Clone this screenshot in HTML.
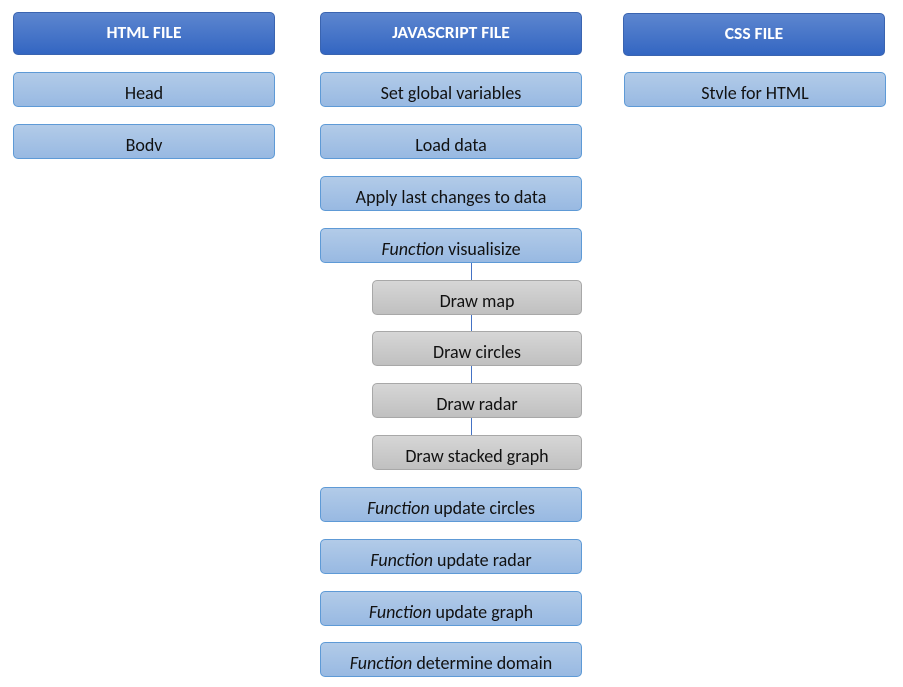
<!DOCTYPE html>
<html><head><meta charset="utf-8"><style>
body{margin:0;width:903px;height:687px;background:#fff;position:relative;overflow:hidden;font-family:Calibri,"Liberation Sans",sans-serif;}
.b{position:absolute;box-sizing:border-box;border-radius:5px;text-align:center;color:#111;font-size:18px;}
.h{background:linear-gradient(#5d86cf,#3366c2);border:1px solid #3a64b0;color:#fff;font-weight:bold;font-size:17.5px;line-height:38px;}
.l{background:linear-gradient(#b2cbe8,#98b9e2);border:1px solid #5e9ad6;line-height:40px;}
.g{background:linear-gradient(#d6d6d6,#c0c0c0);border:1px solid #a8a8a8;line-height:40px;}
.v{position:absolute;left:471px;width:1px;background:#4472c4;}
</style></head><body>
<div class="b h" style="left:13px;top:12px;width:262px;height:43px">HTML FILE</div>
<div class="b h" style="left:320px;top:12px;width:262px;height:43px">JAVASCRIPT FILE</div>
<div class="b h" style="left:623px;top:13px;width:262px;height:43px">CSS FILE</div>

<div class="b l" style="left:13px;top:72px;width:262px;height:35px">Head</div>
<div class="b l" style="left:13px;top:124px;width:262px;height:35px">Bodv</div>
<div class="b l" style="left:624px;top:72px;width:262px;height:35px">Stvle for HTML</div>

<div class="b l" style="left:320px;top:72px;width:262px;height:35px">Set global variables</div>
<div class="b l" style="left:320px;top:124px;width:262px;height:35px">Load data</div>
<div class="b l" style="left:320px;top:176px;width:262px;height:35px">Apply last changes to data</div>
<div class="b l" style="left:320px;top:228px;width:262px;height:35px"><i>Function</i> visualisize</div>

<div class="v" style="top:263px;height:17px"></div>
<div class="v" style="top:314px;height:17px"></div>
<div class="v" style="top:366px;height:17px"></div>
<div class="v" style="top:417px;height:18px"></div>

<div class="b g" style="left:372px;top:280px;width:210px;height:35px">Draw map</div>
<div class="b g" style="left:372px;top:331px;width:210px;height:35px">Draw circles</div>
<div class="b g" style="left:372px;top:383px;width:210px;height:35px">Draw radar</div>
<div class="b g" style="left:372px;top:435px;width:210px;height:35px">Draw stacked graph</div>

<div class="b l" style="left:320px;top:487px;width:262px;height:35px"><i>Function</i> update circles</div>
<div class="b l" style="left:320px;top:539px;width:262px;height:35px"><i>Function</i> update radar</div>
<div class="b l" style="left:320px;top:591px;width:262px;height:35px"><i>Function</i> update graph</div>
<div class="b l" style="left:320px;top:642px;width:262px;height:35px"><i>Function</i> determine domain</div>
</body></html>
